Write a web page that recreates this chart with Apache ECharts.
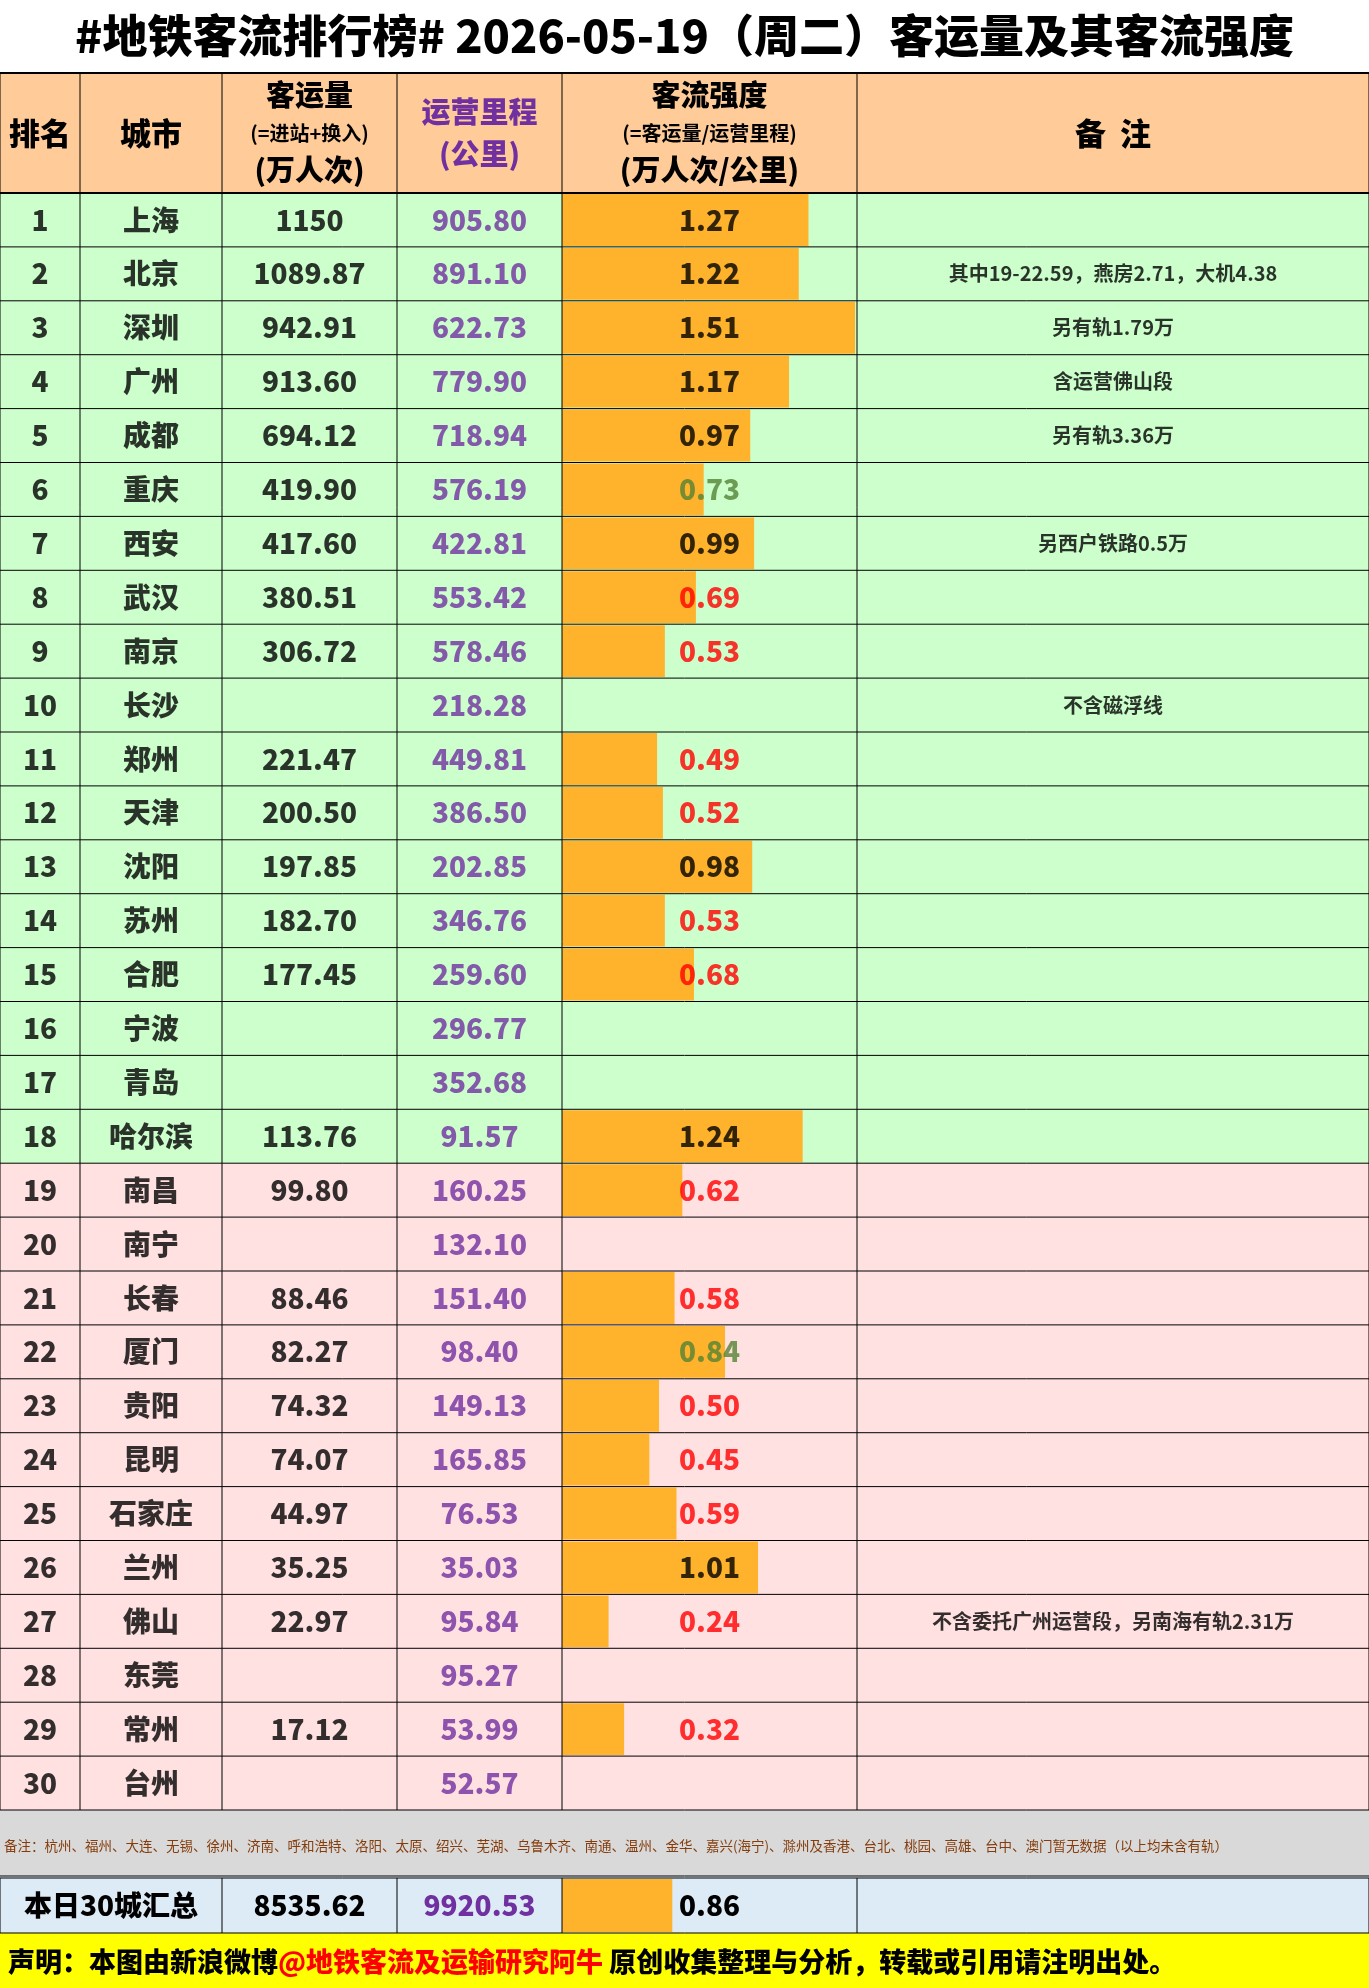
<!DOCTYPE html>
<html><head><meta charset="utf-8">
<script src="https://cdn.jsdelivr.net/npm/echarts@6/dist/echarts.min.js"></script>
<style>html,body{margin:0;padding:0;background:#fff}#c{width:1369px;height:1988px}</style>
</head><body><div id="c"></div>
<script>
const ranks = ['1','2','3','4','5','6','7','8','9','10','11','12','13','14','15','16','17','18','19','20','21','22','23','24','25','26','27','28','29','30'];
const cities = ['上海','北京','深圳','广州','成都','重庆','西安','武汉','南京','长沙','郑州','天津','沈阳','苏州','合肥','宁波','青岛','哈尔滨','南昌','南宁','长春','厦门','贵阳','昆明','石家庄','兰州','佛山','东莞','常州','台州'];
const volume = ['1150','1089.87','942.91','913.60','694.12','419.90','417.60','380.51','306.72','','221.47','200.50','197.85','182.70','177.45','','','113.76','99.80','','88.46','82.27','74.32','74.07','44.97','35.25','22.97','','17.12',''];
const mileage = ['905.80','891.10','622.73','779.90','718.94','576.19','422.81','553.42','578.46','218.28','449.81','386.50','202.85','346.76','259.60','296.77','352.68','91.57','160.25','132.10','151.40','98.40','149.13','165.85','76.53','35.03','95.84','95.27','53.99','52.57'];
const intensity = [1.27,1.22,1.51,1.17,0.97,0.73,0.99,0.69,0.53,null,0.49,0.52,0.98,0.53,0.68,null,null,1.24,0.62,null,0.58,0.84,0.50,0.45,0.59,1.01,0.24,null,0.32,null];
const notes = ['','其中19-22.59，燕房2.71，大机4.38','另有轨1.79万','含运营佛山段','另有轨3.36万','','另西户铁路0.5万','','','不含磁浮线','','','','','','','','','','','','','','','','','不含委托广州运营段，另南海有轨2.31万','','',''];
const totalLabel = '本日30城汇总';
const totalVolume = '8535.62';
const totalMileage = '9920.53';
const totalIntensity = 0.86;
const title = '#地铁客流排行榜# 2026-05-19（周二）客运量及其客流强度';
const footnote = '备注：杭州、福州、大连、无锡、徐州、济南、呼和浩特、洛阳、太原、绍兴、芜湖、乌鲁木齐、南通、温州、金华、嘉兴(海宁)、滁州及香港、台北、桃园、高雄、台中、澳门暂无数据（以上均未含有轨）';

const F = '"Noto Sans CJK SC","Noto Sans",sans-serif';
const W = 1369;
const colX = [0,80,222,397,562,857,1369];
const headTop = 73, rowTop = 193, rowH = 53.9, N = 30;
const rowBot = rowTop + rowH*N;
const footTop = rowBot + 2, footBot = 1876;
const sumTop = 1878, sumBot = 1933;
const decTop = 1935;

const g = [];
g.push({type:'rect',shape:{x:0,y:0,width:W,height:headTop},style:{fill:'#fff'}});
g.push({type:'rect',shape:{x:0,y:headTop,width:W,height:rowTop-headTop},style:{fill:'#FFCC99'}});
for(let i=0;i<N;i++){
  g.push({type:'rect',shape:{x:0,y:rowTop+i*rowH,width:W,height:rowH},style:{fill:i<18?'#CCFFCC':'#FFE1E1'}});
}
g.push({type:'rect',shape:{x:0,y:rowBot,width:W,height:footBot-rowBot},style:{fill:'#D9D9D9'}});
g.push({type:'rect',shape:{x:0,y:footBot,width:W,height:sumBot-footBot},style:{fill:'#DDEBF7'}});
g.push({type:'rect',shape:{x:0,y:sumBot,width:W,height:1988-sumBot},style:{fill:'#FFFF00'}});
const L=(x1,y1,x2,y2,w)=>g.push({type:'line',shape:{x1,y1,x2,y2},style:{stroke:'#000',lineWidth:w||1},z:10});
L(0,headTop,W,headTop,2); L(0,rowTop,W,rowTop,2);
for(let i=1;i<=N;i++) L(0,rowTop+i*rowH,W,rowTop+i*rowH,1);
L(0,footBot,W,footBot,1); L(0,sumTop,W,sumTop,1); L(0,sumBot,W,sumBot,1);
colX.forEach((x,k)=>{ L(x,headTop,x,rowBot,1); if(k!==1) L(x,sumTop,x,sumBot,1); });
const T=(x,y,text,size,color,weight,align)=>g.push({type:'text',x,y,style:{text,font:`${weight||'900'} ${size}px ${F}`,fill:color||'#000',align:align||'center',verticalAlign:'middle'},z:20});
T(W/2,36,title,45);
const cx=k=>(colX[k]+colX[k+1])/2;
T(cx(0),133,'排名',31); T(cx(1),133,'城市',31);
T(cx(2),95,'客运量',29); T(cx(2),133,'(=进站+换入)',20,'#000','bold'); T(cx(2),170,'(万人次)',29);
T(cx(3),112,'运营里程',29,'#7030A0'); T(cx(3),154,'(公里)',29,'#7030A0');
T(cx(4),95,'客流强度',29); T(cx(4),133,'(=客运量/运营里程)',20,'#000','bold'); T(cx(4),170,'(万人次/公里)',29);
T(cx(5),133,'备  注',31);
T(4,(footTop+footBot)/2+2,footnote,13.5,'#843C0C','normal','left');
T(colX[2]/2,(sumTop+sumBot)/2,totalLabel,28);
g.push({type:'text',x:8,y:(decTop+1988)/2,style:{rich:{a:{font:`900 27px ${F}`,fill:'#000'},b:{font:`900 27px ${F}`,fill:'#FF0000'}},text:'{a|声明：本图由新浪微博}{b|@地铁客流及运输研究阿牛}{a| 原创收集整理与分析，转载或引用请注明出处。}',verticalAlign:'middle'},z:20});

const grids=[], xAxes=[], yAxes=[], series=[];
function textCol(k,vals,colorFn,size,weight){
  const gi=grids.length;
  grids.push({left:colX[k],width:colX[k+1]-colX[k],top:rowTop,height:rowH*N});
  xAxes.push({gridIndex:gi,type:'category',data:['c'],show:false});
  yAxes.push({gridIndex:gi,type:'category',data:ranks,inverse:true,show:false});
  series.push({type:'scatter',xAxisIndex:gi,yAxisIndex:gi,symbolSize:1,itemStyle:{color:'rgba(0,0,0,0)'},silent:true,z:30,
    data:vals.map((v,i)=>({value:[0,i],name:v==null?'':String(v),label:{color:colorFn?colorFn(v,i):'#000'}})),
    label:{show:true,position:'inside',formatter:p=>p.name,fontFamily:F,fontWeight:weight||900,fontSize:size||28}});
}
textCol(0,ranks); textCol(1,cities); textCol(2,volume); textCol(3,mileage,()=> '#7030A0');
let gi=grids.length;
grids.push({left:colX[4],width:colX[5]-colX[4],top:rowTop,height:rowH*N});
xAxes.push({gridIndex:gi,type:'value',min:0,max:1.52,show:false});
yAxes.push({gridIndex:gi,type:'category',data:ranks,inverse:true,show:false});
series.push({type:'bar',xAxisIndex:gi,yAxisIndex:gi,data:intensity,barWidth:rowH-2,itemStyle:{color:'#FFB32C'},z:5,silent:true});
textCol(4,intensity.map(v=>v==null?'':v.toFixed(2)),v=>{const n=parseFloat(v);return n>=0.9?'#000':(n>=0.7?'#548235':'#FF0000');});
textCol(5,notes,null,20,'bold');
gi=grids.length;
grids.push({left:colX[4],width:colX[5]-colX[4],top:sumTop,height:sumBot-sumTop});
xAxes.push({gridIndex:gi,type:'value',min:0,max:2.3,show:false});
yAxes.push({gridIndex:gi,type:'category',data:['t'],show:false});
series.push({type:'bar',xAxisIndex:gi,yAxisIndex:gi,data:[totalIntensity],barWidth:sumBot-sumTop-2,itemStyle:{color:'#FFB32C'},silent:true});
T(cx(2),(sumTop+sumBot)/2,totalVolume,28); T(cx(3),(sumTop+sumBot)/2,totalMileage,28,'#7030A0');
T(cx(4),(sumTop+sumBot)/2,totalIntensity.toFixed(2),28);

const chart=echarts.init(document.getElementById('c'));
chart.setOption({animation:false,grid:grids,xAxis:xAxes,yAxis:yAxes,series,graphic:{elements:g.map(e=>Object.assign({z:e.z||0},e))}});
</script></body></html>
